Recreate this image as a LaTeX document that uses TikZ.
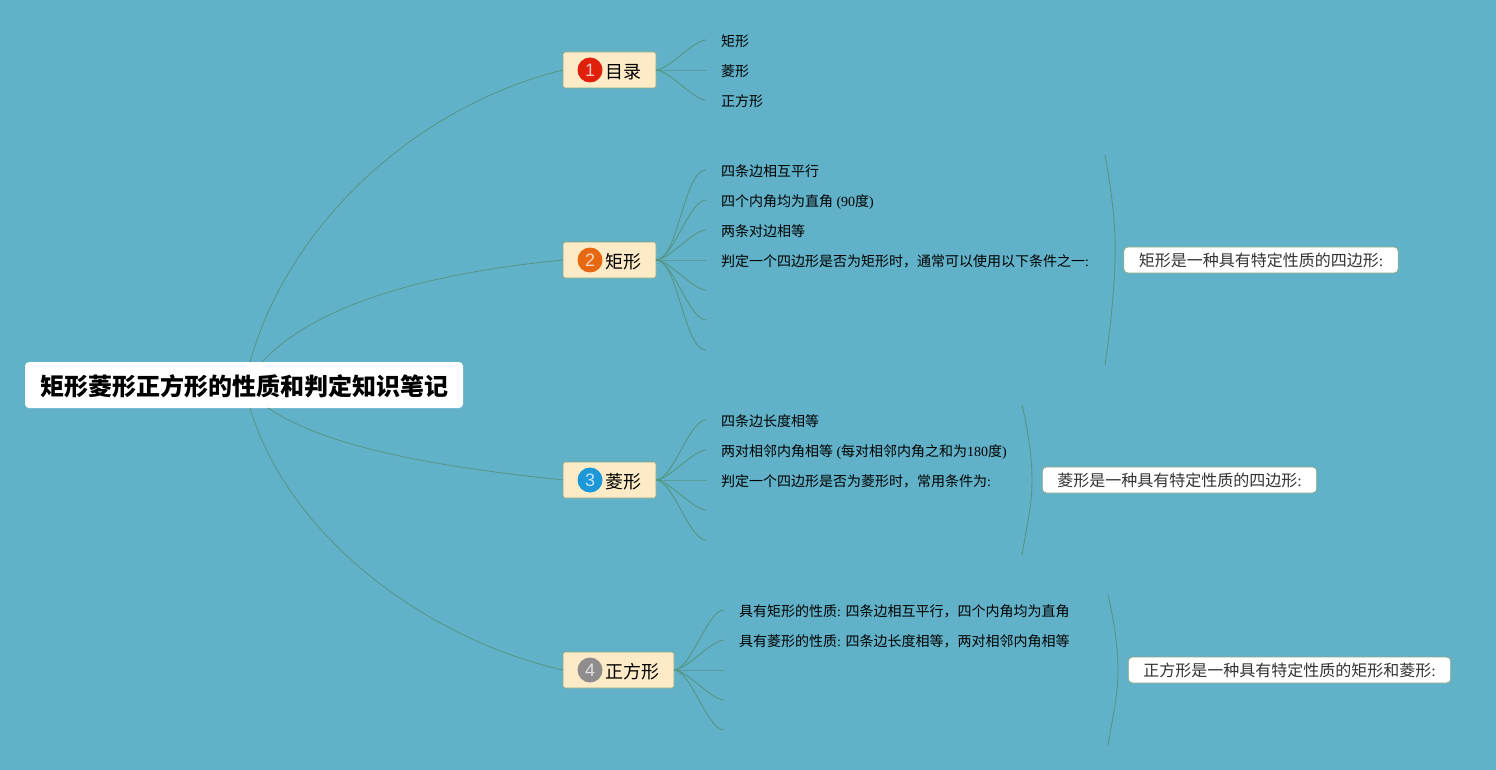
\documentclass[tikz,border=0pt]{standalone}
\usepackage{fontspec}
\setmainfont{Liberation Serif}
\newfontfamily\cjk{Noto Sans CJK SC}
\newfontfamily\digitfont{Liberation Sans}
\usetikzlibrary{positioning,calc}
\definecolor{mapbg}{RGB}{97,178,200}
\definecolor{mapline}{RGB}{84,150,132}
\definecolor{boxfill}{RGB}{253,235,200}
\definecolor{boxline}{RGB}{135,168,132}
\definecolor{badgered}{RGB}{224,32,10}
\definecolor{badgeorange}{RGB}{230,104,16}
\definecolor{badgeblue}{RGB}{28,152,216}
\definecolor{badgegray}{RGB}{142,140,140}
\newcommand{\zh}[1]{{\cjk #1}}
\tikzset{
	rootbox/.style={fill=white, rounded corners=4pt, outer sep=0pt, inner sep=0pt, minimum width=438pt, minimum height=46pt, text height=22pt, text depth=1pt, font=\fontsize{24}{26}\selectfont\cjk\bfseries},
	branchbox/.style={draw=boxline, line width=0.8pt, fill=boxfill, rounded corners=1.5pt, outer sep=0pt, inner sep=0pt, minimum height=36pt, text height=17pt, text depth=0.6pt, font=\fontsize{18}{20}\selectfont\cjk},
	badge/.style={circle, fill=#1, inner sep=0pt, minimum size=25pt, text=white!75!#1, font=\fontsize{18}{18}\selectfont\digitfont},
	leaf/.style={anchor=west, inner xsep=15pt, inner ysep=0pt, outer sep=0pt, text height=14pt, text depth=1.4pt, font=\fontsize{14}{16}\selectfont},
	summary/.style={draw=boxline, line width=0.8pt, fill=white, rounded corners=4pt, outer sep=0pt, inner xsep=15pt, inner ysep=0pt, minimum height=26pt, text=black!80, font=\fontsize{16}{18}\selectfont},
	trunk/.style={draw=mapline, line width=0.8pt},
	twig/.style={draw=mapline, line width=0.9pt, out=0, in=180, looseness=0.55},
	arc/.style={draw=mapline, line width=0.9pt},
}
\begin{document}
\begin{tikzpicture}[x=1pt, y=-1pt]
	\useasboundingbox (0,0) rectangle (1496,770);
	\fill[mapbg] (0,0) rectangle (1496,770);
	
	% Define root and branches
	\node[rootbox] (root) at (244,385) {矩形菱形正方形的性质和判定知识笔记};
	\node[branchbox, minimum width=93pt] (b1) at (609.5,70) {\hspace{27pt}目录};
	\node[branchbox, minimum width=93pt] (b2) at (609.5,260) {\hspace{27pt}矩形};
	\node[branchbox, minimum width=93pt] (b3) at (609.5,480) {\hspace{27pt}菱形};
	\node[branchbox, minimum width=111pt] (b4) at (618.5,670) {\hspace{27pt}正方形};
	\node[badge=badgered] (n1) at ($(b1.west)+(27,0)$) {1};
	\node[badge=badgeorange] (n2) at ($(b2.west)+(27,0)$) {2};
	\node[badge=badgeblue] (n3) at ($(b3.west)+(27,0)$) {3};
	\node[badge=badgegray] (n4) at ($(b4.west)+(27,0)$) {4};
	\coordinate (r1) at (250,362);
	\coordinate (r2) at (262,362);
	\coordinate (r3) at (268,408);
	\coordinate (r4) at (250,408);
	
	% Define leaves
	\node[leaf, right=50pt of b1, yshift=30pt] (l11) {\zh{矩形}};
	\node[leaf, right=50pt of b1] (l12) {\zh{菱形}};
	\node[leaf, right=50pt of b1, yshift=-30pt] (l13) {\zh{正方形}};
	
	\node[leaf, right=50pt of b2, yshift=90pt] (l21) {\zh{四条边相互平行}};
	\node[leaf, right=50pt of b2, yshift=60pt] (l22) {\zh{四个内角均为直角} (90\zh{度})};
	\node[leaf, right=50pt of b2, yshift=30pt] (l23) {\zh{两条对边相等}};
	\node[leaf, right=50pt of b2] (l24) {\zh{判定一个四边形是否为矩形时，通常可以使用以下条件之一}:};
	\coordinate[right=50pt of b2, yshift=-30pt] (l25);
	\coordinate[right=50pt of b2, yshift=-60pt] (l26);
	\coordinate[right=50pt of b2, yshift=-90pt] (l27);
	
	\node[leaf, right=50pt of b3, yshift=60pt] (l31) {\zh{四条边长度相等}};
	\node[leaf, right=50pt of b3, yshift=30pt] (l32) {\zh{两对相邻内角相等} (\zh{每对相邻内角之和为}180\zh{度})};
	\node[leaf, right=50pt of b3] (l33) {\zh{判定一个四边形是否为菱形时，常用条件为}:};
	\coordinate[right=50pt of b3, yshift=-30pt] (l34);
	\coordinate[right=50pt of b3, yshift=-60pt] (l35);
	
	\node[leaf, right=50pt of b4, yshift=60pt] (l41) {\zh{具有矩形的性质}: \zh{四条边相互平行，四个内角均为直角}};
	\node[leaf, right=50pt of b4, yshift=30pt] (l42) {\zh{具有菱形的性质}: \zh{四条边长度相等，两对相邻内角相等}};
	\coordinate[right=50pt of b4] (l43);
	\coordinate[right=50pt of b4, yshift=-30pt] (l44);
	\coordinate[right=50pt of b4, yshift=-60pt] (l45);
	
	% Define summaries and their arcs
	\node[summary] (s2) at (1261,260) {\zh{矩形是一种具有特定性质的四边形}:};
	\node[summary] (s3) at (1179.5,480) {\zh{菱形是一种具有特定性质的四边形}:};
	\node[summary] (s4) at (1289.5,670) {\zh{正方形是一种具有特定性质的矩形和菱形}:};
	\coordinate (a2t) at (1105,155);
	\coordinate (a2b) at (1105,365);
	\coordinate (a3t) at (1022,405);
	\coordinate (a3b) at (1022,555);
	\coordinate (a4t) at (1108,595);
	\coordinate (a4b) at (1108,745);
	
	% Draw trunk lines
	\draw[trunk] (r1) .. controls (290,220) and (420,105) .. (b1.west);
	\draw[trunk] (r2) .. controls (320,300) and (440,272) .. (b2.west);
	\draw[trunk] (r3) .. controls (330,450) and (450,468) .. (b3.west);
	\draw[trunk] (r4) .. controls (290,540) and (430,640) .. (b4.west);
	
	% Draw twigs
	\draw[twig] (b1.east) to (l11.west);
	\draw[twig] (b1.east) to (l12.west);
	\draw[twig] (b1.east) to (l13.west);
	\draw[twig] (b2.east) to (l21.west);
	\draw[twig] (b2.east) to (l22.west);
	\draw[twig] (b2.east) to (l23.west);
	\draw[twig] (b2.east) to (l24.west);
	\draw[twig] (b2.east) to (l25);
	\draw[twig] (b2.east) to (l26);
	\draw[twig] (b2.east) to (l27);
	\draw[twig] (b3.east) to (l31.west);
	\draw[twig] (b3.east) to (l32.west);
	\draw[twig] (b3.east) to (l33.west);
	\draw[twig] (b3.east) to (l34);
	\draw[twig] (b3.east) to (l35);
	\draw[twig] (b4.east) to (l41.west);
	\draw[twig] (b4.east) to (l42.west);
	\draw[twig] (b4.east) to (l43);
	\draw[twig] (b4.east) to (l44);
	\draw[twig] (b4.east) to (l45);
	
	% Draw arcs
	\draw[arc] (a2t) .. controls (1112,195) and (1116,225) .. (1115,260) .. controls (1114,295) and (1110,330) .. (a2b);
	\draw[arc] (a3t) .. controls (1029,435) and (1032,460) .. (1032,480) .. controls (1032,505) and (1027,525) .. (a3b);
	\draw[arc] (a4t) .. controls (1115,625) and (1118,650) .. (1118,670) .. controls (1118,695) and (1113,715) .. (a4b);
\end{tikzpicture}
\end{document}
